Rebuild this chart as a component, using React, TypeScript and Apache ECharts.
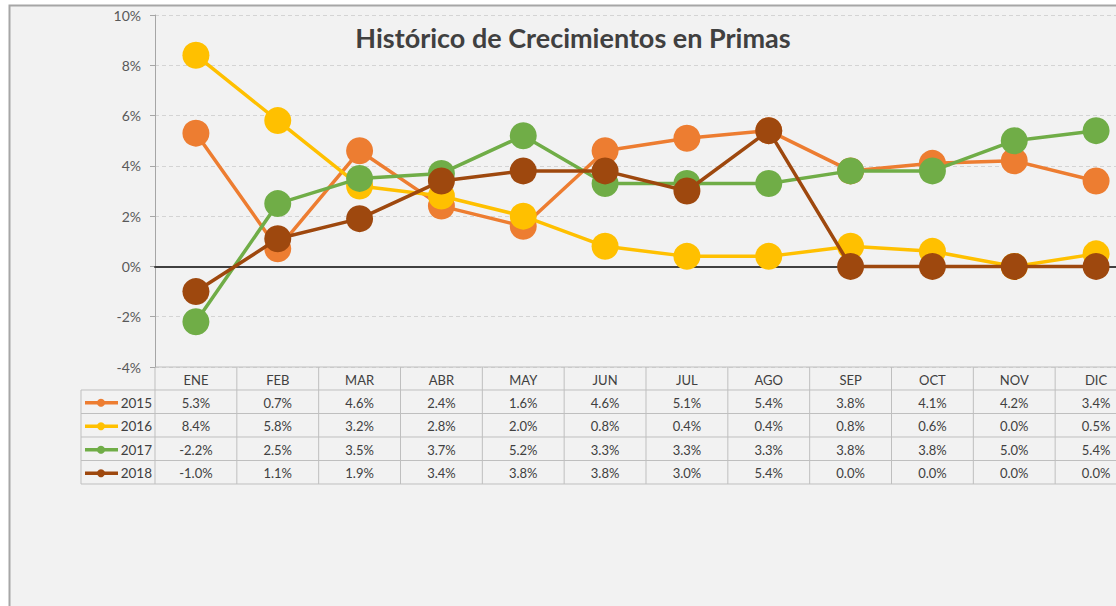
import React, { useEffect, useRef } from "react";
import * as echarts from "echarts";

const months = ["ENE", "FEB", "MAR", "ABR", "MAY", "JUN", "JUL", "AGO", "SEP", "OCT", "NOV", "DIC"];
const years = ["2015", "2016", "2017", "2018"];
const s2015 = [5.3, 0.7, 4.6, 2.4, 1.6, 4.6, 5.1, 5.4, 3.8, 4.1, 4.2, 3.4];
const s2016 = [8.4, 5.8, 3.2, 2.8, 2.0, 0.8, 0.4, 0.4, 0.8, 0.6, 0.0, 0.5];
const s2017 = [-2.2, 2.5, 3.5, 3.7, 5.2, 3.3, 3.3, 3.3, 3.8, 3.8, 5.0, 5.4];
const s2018 = [-1.0, 1.1, 1.9, 3.4, 3.8, 3.8, 3.0, 5.4, 0.0, 0.0, 0.0, 0.0];
const seriesData = [s2015, s2016, s2017, s2018];
const colors = ["#ED7D31", "#FFC000", "#70AD47", "#9E480E"];
const yMin = -4;
const yMax = 10;
const yStep = 2;
const title = "Histórico de Crecimientos en Primas";

const FONT = "Lato, 'Open Sans', sans-serif";

export default function App() {
  const ref = useRef<HTMLDivElement>(null);
  useEffect(() => {
    document.body.style.margin = "0";
    document.body.style.overflow = "hidden";
    const chart = echarts.init(ref.current!, null, { renderer: "svg" });
    const option: any = {
      animation: false,
      backgroundColor: "#ffffff",
      textStyle: { fontFamily: FONT },
      grid: { left: 155, top: 15, width: 982, height: 352 },
      xAxis: {
        type: "category",
        data: months,
        boundaryGap: true,
        axisLine: { onZero: true, lineStyle: { color: "#404040", width: 2 } },
        axisTick: { show: false },
        axisLabel: { show: false },
        splitLine: { show: false },
        z: 1,
      },
      yAxis: {
        type: "value",
        min: yMin,
        max: yMax,
        interval: yStep,
        axisLine: { show: true, lineStyle: { color: "#a6a6a6", width: 1 } },
        axisTick: { show: true, length: 5, lineStyle: { color: "#a6a6a6" } },
        axisLabel: {
          color: "#595959",
          fontSize: 14,
          margin: 14,
          fontFamily: FONT,
          formatter: (v: number) => `${v}%`,
        },
        splitLine: { show: true, lineStyle: { color: "#d4d4d4", type: [4, 3], width: 1 } },
      },
      series: seriesData.map((d, i) => ({
        name: years[i],
        type: "line",
        data: d,
        symbol: "circle",
        symbolSize: 27,
        lineStyle: { color: colors[i], width: 3.5 },
        itemStyle: { color: colors[i] },
        z: 3 + i,
      })),
    };
    chart.setOption(option);

    const cx = months.map((_, i) => chart.convertToPixel({ xAxisIndex: 0 }, i) as number);
    const band = cx[1] - cx[0];
    const top = chart.convertToPixel({ yAxisIndex: 0 }, yMin) as number;
    const headerH = 23;
    const rowH = 23.5;
    const leftX = 81;
    const axisX = cx[0] - band / 2;
    const rightX = cx[cx.length - 1] + band / 2;
    const stroke = "#bfbfbf";
    const g: any[] = [];
    // chart area background & border
    g.push({
      type: "rect",
      z: -10,
      silent: true,
      shape: { x: 9.5, y: 5.5, width: 1300, height: 800 },
      style: { fill: "#f2f2f2", stroke: "#a6a6a6", lineWidth: 2 },
    });
    // title
    g.push({
      type: "text",
      z: 10,
      x: 573,
      y: 37,
      style: {
        text: title,
        font: `bold 27px ${FONT}`,
        fill: "#404040",
        align: "center",
        verticalAlign: "middle",
      },
    });
    const tableBottom = top + headerH + rowH * years.length;
    // top border of header
    g.push({ type: "line", shape: { x1: axisX, y1: top, x2: rightX, y2: top }, style: { stroke, lineWidth: 1 } });
    // row lines
    for (let r = 0; r <= years.length; r++) {
      const y = top + headerH + rowH * r;
      g.push({ type: "line", shape: { x1: leftX, y1: y, x2: rightX, y2: y }, style: { stroke, lineWidth: 1 } });
    }
    // left border
    g.push({ type: "line", shape: { x1: leftX, y1: top + headerH, x2: leftX, y2: tableBottom }, style: { stroke, lineWidth: 1 } });
    // column separators
    for (let c = 0; c <= months.length; c++) {
      const x = axisX + band * c;
      g.push({ type: "line", shape: { x1: x, y1: top, x2: x, y2: tableBottom }, style: { stroke, lineWidth: 1 } });
    }
    // header texts
    months.forEach((m, i) => {
      g.push({
        type: "text",
        x: cx[i],
        y: top + headerH / 2 + 1,
        style: { text: m, font: `13px ${FONT}`, fill: "#404040", align: "center", verticalAlign: "middle" },
      });
    });
    // rows
    years.forEach((yr, r) => {
      const yc = top + headerH + rowH * r + rowH / 2 + 1;
      g.push({ type: "line", shape: { x1: 85, y1: yc, x2: 118, y2: yc }, style: { stroke: colors[r], lineWidth: 3.5 } });
      g.push({ type: "circle", shape: { cx: 101, cy: yc, r: 4 }, style: { fill: colors[r] } });
      g.push({
        type: "text",
        x: 152,
        y: yc,
        style: { text: yr, font: `13.5px ${FONT}`, fill: "#404040", align: "right", verticalAlign: "middle" },
      });
      seriesData[r].forEach((v, i) => {
        g.push({
          type: "text",
          x: cx[i],
          y: yc,
          style: { text: `${v.toFixed(1)}%`, font: `13px ${FONT}`, fill: "#404040", align: "center", verticalAlign: "middle" },
        });
      });
    });
    chart.setOption({ graphic: { elements: g } });
    return () => chart.dispose();
  }, []);
  return <div ref={ref} style={{ width: 1140, height: 606 }} />;
}
